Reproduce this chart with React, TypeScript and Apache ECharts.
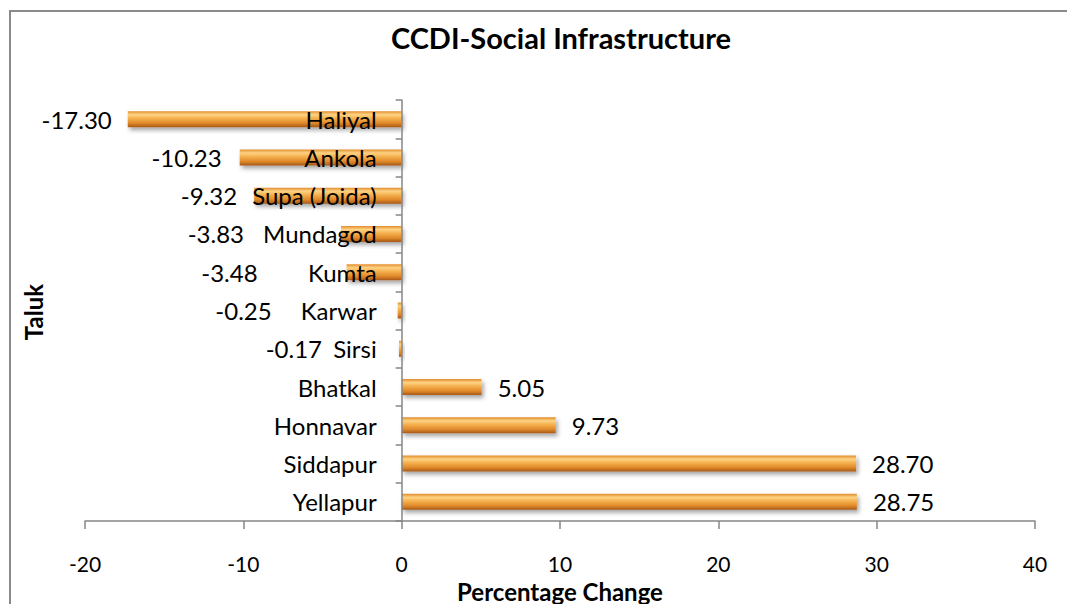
import React, { useEffect, useRef } from "react";
import * as echarts from "echarts";

const categories = ["Yellapur", "Siddapur", "Honnavar", "Bhatkal", "Sirsi", "Karwar", "Kumta", "Mundagod", "Supa (Joida)", "Ankola", "Haliyal"];
const values = [28.75, 28.7, 9.73, 5.05, -0.17, -0.25, -3.48, -3.83, -9.32, -10.23, -17.3];
const xTicks = [-20, 40, 10];

// gap (px) between bar end and its value label, as placed in the reference
const labelGap = [16, 16, 16, 16, 77, 126, 89, 97, 17, 18, 16];

const FONT = "Lato, 'Open Sans', sans-serif";

export default function App() {
  const ref = useRef<HTMLDivElement>(null);
  useEffect(() => {
    if (!ref.current) return;
    const chart = echarts.init(ref.current, null, { renderer: "svg" });
    const barGrad = new echarts.graphic.LinearGradient(0, 0, 0, 1, [
      { offset: 0, color: "#e38c2c" },
      { offset: 0.22, color: "#fdd384" },
      { offset: 0.45, color: "#f5b04e" },
      { offset: 0.75, color: "#e0892a" },
      { offset: 1, color: "#a65818" },
    ]);
    const gridLeft = 85;
    const gridRight = 32;
    const plotW = 1067 - gridLeft - gridRight;
    const zeroOffset = ((0 - xTicks[0]) / (xTicks[1] - xTicks[0])) * plotW;
    chart.setOption({
      animation: false,
      title: {
        text: "CCDI-Social Infrastructure",
        left: 556,
        textAlign: "center",
        top: 18,
        textStyle: { fontFamily: FONT, fontSize: 29, fontWeight: "bold", color: "#000" },
      },
      grid: { left: gridLeft, right: gridRight, top: 100, bottom: 83, containLabel: false, outerBoundsMode: "none" },
      xAxis: {
        type: "value",
        min: xTicks[0],
        max: xTicks[1],
        interval: xTicks[2],
        splitLine: { show: false },
        axisLine: { show: true, lineStyle: { color: "#868686", width: 1.5 } },
        axisTick: { show: true, length: 8, lineStyle: { color: "#868686", width: 1.5 } },
        axisLabel: { margin: 32, fontFamily: FONT, fontSize: 21, color: "#000" },
        name: "Percentage Change",
        nameLocation: "middle",
        nameGap: 58,
        nameTextStyle: { fontFamily: FONT, fontSize: 24, fontWeight: "bold", color: "#000" },
      },
      yAxis: {
        type: "category",
        data: categories,
        offset: -zeroOffset,
        z: 5,
        axisLine: { show: true, onZero: false, lineStyle: { color: "#868686", width: 1.5 } },
        axisTick: { show: true, length: 6, lineStyle: { color: "#868686", width: 1.5 } },
        axisLabel: { margin: 25, fontFamily: FONT, fontSize: 24, color: "#000" },
      },
      series: [
        {
          type: "bar",
          barWidth: 16,
          data: values.map((v, i) => ({
            value: v,
            label: {
              show: true,
              position: v < 0 ? "left" : "right",
              distance: labelGap[i],
              formatter: v.toFixed(2),
              fontFamily: FONT,
              fontSize: 24,
              color: "#000",
            },
          })),
          itemStyle: {
            color: barGrad,
            shadowBlur: 4,
            shadowColor: "rgba(0,0,0,0.35)",
            shadowOffsetX: 2,
            shadowOffsetY: 3,
          },
        },
      ],
      graphic: [
        {
          type: "rect",
          shape: { x: 10, y: 11, width: 1200, height: 800 },
          style: { fill: "none", stroke: "#8a8a8a", lineWidth: 2 },
          silent: true,
        },
        {
          type: "text",
          x: 33,
          y: 312,
          rotation: Math.PI / 2,
          style: {
            text: "Taluk",
            fontFamily: FONT,
            fontSize: 24,
            fontWeight: "bold",
            fill: "#000",
            align: "center",
            verticalAlign: "middle",
          },
        },
      ],
    });
    return () => chart.dispose();
  }, []);
  return (
    <div
      ref={ref}
      style={{ position: "fixed", left: 0, top: 0, width: 1067, height: 604, background: "#fff" }}
    />
  );
}
